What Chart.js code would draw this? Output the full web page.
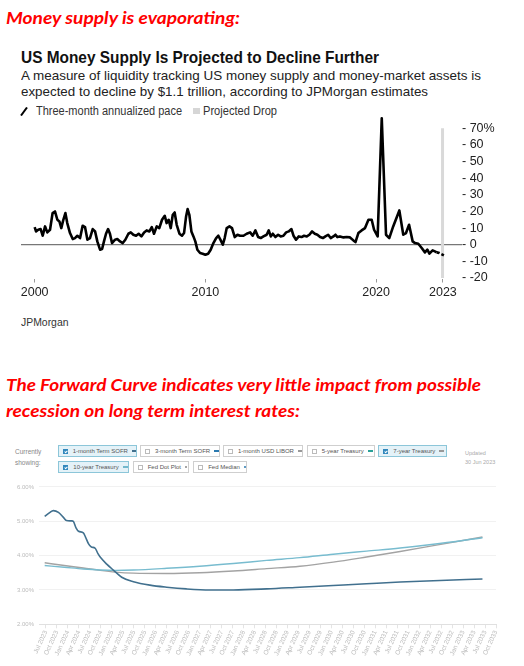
<!DOCTYPE html>
<html><head><meta charset="utf-8">
<script src="https://cdn.jsdelivr.net/npm/chart.js@4.4.0/dist/chart.umd.min.js"></script>
<style>
html,body{margin:0;padding:0;background:#fff;}
body{width:524px;height:666px;position:relative;overflow:hidden;font-family:'Liberation Sans',Arial,sans-serif;}
.t{position:absolute;white-space:nowrap;line-height:1;transform-origin:0 50%;}
.red{color:#ff0000;font-family:Lato,'Liberation Sans',sans-serif;font-weight:bold;font-style:italic;font-size:17px;}
.btn{position:absolute;height:12px;box-sizing:border-box;border:1px solid #cfcfcf;background:#fff;font-size:6px;color:#555;display:flex;align-items:center;padding-left:4px;white-space:nowrap;}
.btn.on{background:#e4f2f8;border-color:#8cc6d9;}
.cb{display:inline-block;width:5px;height:5px;border:1px solid #bbb;box-sizing:border-box;margin-right:5px;background:#fff;position:relative;}
.on .cb{background:#3288bd;border-color:#3288bd;}
.on .cb::after{content:'';position:absolute;left:1px;top:0px;width:1px;height:2px;border:solid #fff;border-width:0 1px 1px 0;transform:rotate(45deg);}
.dash{display:inline-block;width:5px;height:2px;margin-left:4px;}
.dot{display:inline-block;width:2px;height:2px;border-radius:1px;margin-left:4px;}
</style></head><body>

<div class="t red" style="left:6px;top:8.9px" data-w="234">Money supply is evaporating:</div>

<div class="t" style="left:21px;top:48.7px;font-size:16.5px;font-weight:bold;color:#111" data-w="358">US Money Supply Is Projected to Decline Further</div>
<div class="t" style="left:21px;top:69px;font-size:13px;color:#222" data-w="460">A measure of liquidity tracking US money supply and money-market assets is</div>
<div class="t" style="left:21px;top:85px;font-size:13px;color:#222" data-w="407">expected to decline by $1.1 trillion, according to JPMorgan estimates</div>

<svg style="position:absolute;left:20px;top:107px" width="8" height="9"><line x1="1" y1="8.5" x2="7" y2="0.5" stroke="#000" stroke-width="2"/></svg>
<div class="t" style="left:36px;top:104.8px;font-size:12px;color:#333" data-w="146">Three-month annualized pace</div>
<div style="position:absolute;left:193px;top:107.7px;width:6.5px;height:6.5px;background:#d6d6d6"></div>
<div class="t" style="left:203.3px;top:104.8px;font-size:12px;color:#333" data-w="74">Projected Drop</div>

<div style="position:absolute;left:0;top:100px;width:524px;height:212px"><canvas id="c1"></canvas></div>

<div class="t" style="left:21px;top:316.7px;font-size:11px;color:#333" data-w="47.5">JPMorgan</div>

<div class="t red" style="left:6px;top:375.9px" data-w="475">The Forward Curve indicates very little impact from possible</div>
<div class="t red" style="left:6px;top:401.6px" data-w="294">recession on long term interest rates:</div>

<div class="t" style="left:15px;top:449px;font-size:6.5px;color:#888">Currently</div>
<div class="t" style="left:15px;top:460px;font-size:6.5px;color:#888">showing:</div>

<div class="btn on" style="left:58.3px;top:445px;width:78.7px"><span class="cb"></span>1-month Term SOFR<span class="dash" style="background:#41708e"></span></div>
<div class="btn" style="left:140px;top:445px;width:80px"><span class="cb"></span>3-month Term SOFR<span class="dash" style="background:#2a7ab0"></span></div>
<div class="btn" style="left:223.3px;top:445px;width:80px"><span class="cb"></span>1-month USD LIBOR<span class="dash" style="background:#999"></span></div>
<div class="btn" style="left:306.7px;top:445px;width:68.3px"><span class="cb"></span>5-year Treasury<span class="dash" style="background:#2aa198"></span></div>
<div class="btn on" style="left:378.3px;top:445px;width:68.4px"><span class="cb"></span>7-year Treasury<span class="dash" style="background:#999"></span></div>
<div class="btn on" style="left:58.3px;top:461px;width:71px"><span class="cb"></span>10-year Treasury<span class="dash" style="background:#72b8cc"></span></div>
<div class="btn" style="left:132.7px;top:461px;width:56.6px"><span class="cb"></span>Fed Dot Plot<span class="dot" style="background:#888"></span></div>
<div class="btn" style="left:193.3px;top:461px;width:53.4px"><span class="cb"></span>Fed Median<span class="dot" style="background:#2a7ab0"></span></div>

<div class="t" style="left:465px;top:451.3px;font-size:5.5px;color:#aaa">Updated</div>
<div class="t" style="left:465px;top:459.6px;font-size:5.5px;color:#aaa">30 Jun 2023</div>

<div style="position:absolute;left:0;top:478px;width:524px;height:188px"><canvas id="c2"></canvas></div>

<script>
// ---------- Top chart data (US money supply, 3-month annualized pace, %) ----------
const paceYears = [2000.00,2000.08,2000.21,2000.35,2000.47,2000.61,2000.74,2000.90,2001.05,2001.19,2001.33,2001.45,2001.56,2001.68,2001.80,2001.91,
2002.07,2002.23,2002.36,2002.50,2002.66,2002.81,2002.95,2003.09,2003.24,2003.40,2003.54,2003.67,2003.83,2003.95,2004.06,2004.18,2004.30,2004.41,2004.53,2004.71,2004.84,
2005.00,2005.16,2005.31,2005.49,2005.63,2005.78,2005.94,2006.09,2006.25,2006.41,2006.56,2006.72,2006.86,2006.99,2007.15,2007.30,2007.46,2007.62,2007.73,2007.85,2007.97,
2008.09,2008.20,2008.32,2008.48,2008.63,2008.75,2008.87,2008.96,2009.06,2009.18,2009.30,2009.41,2009.53,2009.69,2009.84,2010.00,2010.16,2010.31,2010.47,2010.63,2010.76,2010.90,
2011.02,2011.13,2011.25,2011.41,2011.56,2011.72,2011.88,2012.03,2012.23,2012.42,2012.62,2012.77,2012.93,2013.09,2013.24,2013.40,2013.59,2013.71,2013.83,2013.95,
2014.10,2014.26,2014.41,2014.57,2014.73,2014.88,2015.04,2015.16,2015.31,2015.47,2015.63,2015.78,2015.94,2016.09,2016.25,2016.41,2016.56,2016.72,2016.88,
2017.03,2017.19,2017.34,2017.50,2017.62,2017.73,2017.88,2018.09,2018.28,2018.47,2018.67,2018.79,2018.96,2019.15,2019.35,2019.55,2019.74,2019.88,
2020.09,2020.33,2020.58,2020.77,2021.00,2021.36,2021.59,2021.75,2021.93,2022.14,2022.28,2022.47,2022.67,2022.86,2023.00,2023.12,2023.31,2023.44,2023.55];
const paceValues = [10.6,8,9,9.4,5.4,11,7.4,9,19,20,15,14,10,15,19,13,
7,3.4,4,5.4,4,11.4,10.6,3,4,9.4,8,2,-3,-2.6,2,6.6,9.4,6.6,1,3,3.4,
2,1,3,6.6,7.4,6,5.4,6.6,5,7.4,8.6,8,10.6,6.6,11,10,15,17.4,13,15,10,
18,19.4,12,6.6,5.4,7,17,21.4,18,8,5,2,-3,-5,-5.4,-6,-5.4,-3,1,4,5.4,2.6,
0,4,10,11,10,4.6,6,5.4,5.4,6.6,7.4,5.4,8.6,4.6,4,5,6,8.6,5,6.6,
4.6,6,5,5.4,7.4,8,9.4,5.4,3,5,4.6,5.4,5,6,8,6.6,6,4.6,4,
5,6,4,5,6,4.6,5,4.4,4.6,4.4,2.6,1.6,7,8.6,10,15,15,9,
5,76,6,4,11,20.6,6,7,12,2,1,0.6,-2,-4.6,-3,-5.4,-3.4,-4,-4.6];
const projYears = [2023.55,2023.70,2023.97];
const projValues = [-4.6,-5,-6.4];
const dropYears = [2023.89,2023.89];
const dropRange = [-20,70];
const paceTickValues = [-20,-10,0,10,20,30,40,50,60,70];
const yearTickValues = [2000,2010,2020,2023.91];
const yearTickLabels = ['2000','2010','2020','2023'];

// ---------- Bottom chart data (forward curves, %, x = months after Jul 2023) ----------
const sofrMonths = [-0.36,1.0,2.0,3.4,4.7,5.6,7.0,7.5,8.2,8.9,10.2,10.8,11.6,12.4,13.4,14.2,15.1,16.6,18.4,20.7,23.9,28.4,33.0,38.4,44.8,51.2,60.3,69.4,78.5,87.6,96.8,105.9,119.3];
const sofrRates = [5.14,5.25,5.31,5.26,5.12,5.02,5.01,4.99,4.81,4.71,4.66,4.54,4.35,4.25,4.22,4.06,3.92,3.75,3.58,3.37,3.24,3.14,3.08,3.03,3.00,3.00,3.03,3.08,3.13,3.18,3.23,3.27,3.32];
const tsyMonths = [-0.36,5,10.2,14.8,19,23.9,33,42,51.2,60.3,69.4,78.5,87.6,96.8,105.9,119.3];
const tsy7Rates = [3.79,3.71,3.64,3.57,3.52,3.49,3.48,3.50,3.55,3.62,3.69,3.81,3.96,4.12,4.29,4.54];
const tsy10Rates = [3.71,3.66,3.61,3.58,3.57,3.58,3.63,3.69,3.77,3.86,3.94,4.04,4.13,4.22,4.33,4.52];
const rateTickValues = [2,3,4,5,6];
const quarterLabels = ['Jul 2023','Oct 2023',
'Jan 2024','Apr 2024','Jul 2024','Oct 2024','Jan 2025','Apr 2025','Jul 2025','Oct 2025',
'Jan 2026','Apr 2026','Jul 2026','Oct 2026','Jan 2027','Apr 2027','Jul 2027','Oct 2027',
'Jan 2028','Apr 2028','Jul 2028','Oct 2028','Jan 2029','Apr 2029','Jul 2029','Oct 2029',
'Jan 2030','Apr 2030','Jul 2030','Oct 2030','Jan 2031','Apr 2031','Jul 2031','Oct 2031',
'Jan 2032','Apr 2032','Jul 2032','Oct 2032','Jan 2033','Apr 2033','Jul 2033','Oct 2033'];

// fit text widths
document.querySelectorAll('[data-w]').forEach(el => {
  const w = el.getBoundingClientRect().width;
  el.style.transform = 'scaleX(' + (parseFloat(el.dataset.w) / w) + ')';
});

const pts = (xs, ys) => xs.map((x, i) => ({x, y: ys[i]}));
const helv = "'Liberation Sans', Arial, sans-serif";

new Chart(document.getElementById('c1'), {
  type: 'line',
  data: {
    datasets: [
      {data: pts(paceYears, paceValues), borderColor: '#000', borderWidth: 2.6, pointRadius: 0, tension: 0, borderJoinStyle: 'round'},
      {data: pts(projYears, projValues), borderColor: '#000', borderWidth: 2.6, pointRadius: 0, borderDash: [3, 2]},
      {data: pts(dropYears, dropRange), borderColor: '#d9d9d9', borderWidth: 3, pointRadius: 0}
    ]
  },
  options: {
    responsive: true, maintainAspectRatio: false, animation: false, devicePixelRatio: 1,
    layout: {padding: {left: 21, top: 16.6, right: 0, bottom: 0}},
    plugins: {legend: {display: false}, tooltip: {enabled: false}},
    scales: {
      x: {
        type: 'linear', min: 1999.2, max: 2025.03,
        afterBuildTicks: s => { s.ticks = yearTickValues.map(v => ({value: v})); },
        afterFit: s => { s.height = 33.5; },
        grid: {drawOnChartArea: false, drawTicks: true, tickLength: 4, color: '#999'},
        border: {display: false},
        ticks: {autoSkip: false, maxRotation: 0, padding: 3, color: '#222', font: {family: helv, size: 12.5},
          callback: (v, i) => yearTickLabels[i]}
      },
      y: {
        position: 'right', min: -20.3, max: 77,
        afterBuildTicks: s => { s.ticks = paceTickValues.map(v => ({value: v})); },
        afterFit: s => { s.width = 62; },
        grid: {drawTicks: false, lineWidth: 1.3, color: c => (c.tick && c.tick.value === 0) ? '#777' : 'rgba(0,0,0,0)'},
        border: {display: false},
        ticks: {autoSkip: false, padding: 0, color: '#222', font: {family: helv, size: 12.5},
          callback: v => '- ' + v + (v === 70 ? '%' : '')}
      }
    }
  }
});

new Chart(document.getElementById('c2'), {
  type: 'line',
  data: {
    datasets: [
      {data: pts(sofrMonths, sofrRates), borderColor: '#41708e', borderWidth: 1.6, pointRadius: 0, cubicInterpolationMode: 'monotone'},
      {data: pts(tsyMonths, tsy10Rates), borderColor: '#78bccf', borderWidth: 1.4, pointRadius: 0, cubicInterpolationMode: 'monotone'},
      {data: pts(tsyMonths, tsy7Rates), borderColor: '#a3a3a3', borderWidth: 1.4, pointRadius: 0, cubicInterpolationMode: 'monotone'}
    ]
  },
  options: {
    responsive: true, maintainAspectRatio: false, animation: false, devicePixelRatio: 1,
    layout: {padding: {left: 0, top: 8, right: 28, bottom: 0}},
    plugins: {legend: {display: false}, tooltip: {enabled: false}},
    scales: {
      x: {
        type: 'linear', min: -1.83, max: 123,
        afterBuildTicks: s => { s.ticks = quarterLabels.map((l, i) => ({value: i * 3})); },
        afterFit: s => { s.height = 41.7; },
        grid: {drawOnChartArea: false, drawTicks: true, tickLength: 4, color: '#e4e4e4'},
        border: {display: true, color: '#e0e0e0'},
        ticks: {autoSkip: false, minRotation: 65, maxRotation: 65, padding: 1, color: '#bbb', font: {family: helv, size: 6.5},
          callback: (v, i) => quarterLabels[i]}
      },
      y: {
        min: 2, max: 6,
        afterBuildTicks: s => { s.ticks = rateTickValues.map(v => ({value: v})); },
        afterFit: s => { s.width = 39.3; },
        grid: {drawTicks: false, color: '#f1f1f1'},
        border: {display: false},
        ticks: {autoSkip: false, padding: 5.3, color: '#bbb', font: {family: helv, size: 6},
          callback: v => v.toFixed(2) + '%'}
      }
    }
  }
});
</script>
</body></html>
